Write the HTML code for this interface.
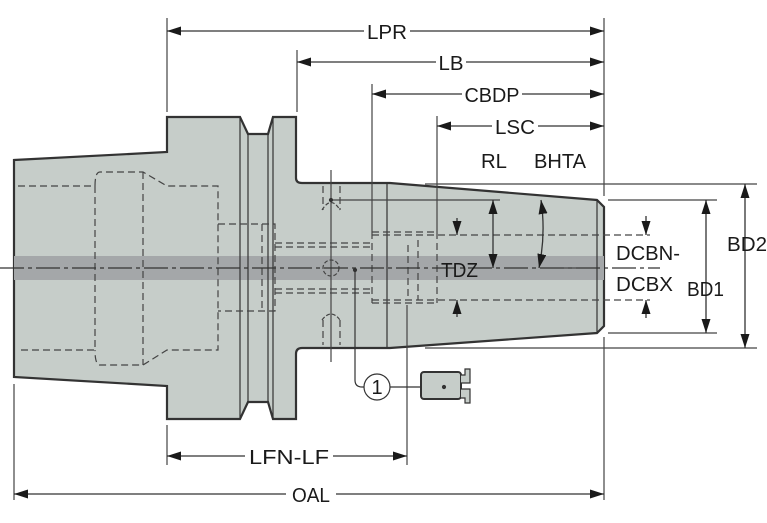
<!DOCTYPE html>
<html><head><meta charset="utf-8"><style>
html,body{margin:0;padding:0;background:#fff;}
svg{display:block;}
text{font-family:"Liberation Sans",sans-serif;font-size:20px;fill:#1a1a1a;}
</style></head><body>
<svg width="767" height="523" viewBox="0 0 767 523" xmlns="http://www.w3.org/2000/svg">
<defs>
<marker id="a" viewBox="0 0 14 9" refX="14" refY="4.5" markerWidth="14" markerHeight="9" orient="auto-start-reverse" markerUnits="userSpaceOnUse"><path d="M0,0 L14,4.5 L0,9 z" fill="#1a1a1a"/></marker>
</defs>
<g stroke="#333" stroke-width="1.2">
<path d="M14,160 L167,152 L167,117 L240,117 L248,134 L268,134 L273,117 L296,117 L296,178 Q296,183 302,183 L390,183 L597,200 L604,207 L604,326 L597,333 L390,348 L302,348 Q296,348 296,354 L296,419 L273,419 L268,402 L248,402 L240,419 L167,419 L167,386 L14,377 Z" fill="#c6cdc9" stroke-width="2.2"/>
<rect x="14" y="256" width="590" height="24" fill="#a4a7a9" stroke="none"/>
<line x1="240" y1="117" x2="240" y2="419"/>
<line x1="248" y1="134" x2="248" y2="402"/>
<line x1="268" y1="134" x2="268" y2="402"/>
<line x1="273" y1="117" x2="273" y2="419"/>
<line x1="387" y1="183" x2="387" y2="347"/>
<line x1="597" y1="200" x2="597" y2="333"/>
</g>
<g stroke="#444" stroke-width="1.2" fill="none" stroke-dasharray="7,4">
<path d="M18,186 L95,186 L95,350 L18,350"/>
<path d="M95,186 Q95,172 100,172 L143,172 L167,186 L218,186 L218,350 L167,350 L143,365 L100,365 Q95,365 95,350"/>
<path d="M143,172 L143,365"/>
<path d="M218,224 L275,224 L275,311 L218,311"/>
<path d="M262,224 L262,311"/>
<path d="M275,243 L372,243 M275,247 L372,247 M275,289 L372,289 M275,293 L372,293"/>
<path d="M372,232 L372,303"/>
<path d="M372,232 L437,232 M372,303 L437,303 M437,232 L437,303"/>
<path d="M372,235 L650,235 M372,300 L650,300"/>
<path d="M408,245 L408,300 M418,240 L418,300"/>
<path d="M323,186 L323,210 M340,186 L340,210 M323,320 L323,345 M340,320 L340,345"/>
</g>
<g stroke="#444" stroke-width="1.2" fill="none">
<path d="M322,210 Q331,195 340,210" stroke-dasharray="4,2"/>
<path d="M322,320 Q331,308 340,320" stroke-dasharray="4,2"/>
<circle cx="331" cy="268" r="8" stroke-dasharray="4,2"/>
<line x1="331" y1="170" x2="331" y2="362"/>
</g>
<line x1="0" y1="268" x2="660" y2="268" stroke="#333" stroke-width="1.2" stroke-dasharray="24,4,4,4"/>
<g stroke="#444" stroke-width="1.2">
<line x1="167" y1="18" x2="167" y2="112"/>
<line x1="297" y1="50" x2="297" y2="112"/>
<line x1="372" y1="84" x2="372" y2="232"/>
<line x1="437" y1="116" x2="437" y2="232"/>
<line x1="604" y1="18" x2="604" y2="196"/>
<line x1="604" y1="337" x2="604" y2="500"/>
<line x1="14" y1="384" x2="14" y2="500"/>
<line x1="167" y1="425" x2="167" y2="465"/>
<line x1="407" y1="305" x2="407" y2="465"/>
<line x1="425" y1="184" x2="757" y2="184"/>
<line x1="425" y1="348" x2="757" y2="348"/>
<line x1="608" y1="200" x2="717" y2="200"/>
<line x1="608" y1="333" x2="717" y2="333"/>
<line x1="331" y1="200" x2="500" y2="200"/>
<line x1="545" y1="268" x2="580" y2="268"/>
</g>
<g stroke="#333" stroke-width="1.3" marker-start="url(#a)" marker-end="url(#a)">
<line x1="167" y1="31" x2="604" y2="31"/>
<line x1="297" y1="62" x2="604" y2="62"/>
<line x1="372" y1="94" x2="604" y2="94"/>
<line x1="437" y1="126" x2="604" y2="126"/>
<line x1="167" y1="456" x2="407" y2="456"/>
<line x1="14" y1="494" x2="604" y2="494"/>
<line x1="745" y1="184" x2="745" y2="348"/>
<line x1="706" y1="200" x2="706" y2="333"/>
<line x1="493" y1="200" x2="493" y2="268"/>
<path d="M541,200 Q546,234 539,268" fill="none"/>
</g>
<g stroke="#333" stroke-width="1.3" marker-end="url(#a)">
<line x1="457" y1="218" x2="457" y2="235"/>
<line x1="457" y1="317" x2="457" y2="300"/>
<line x1="646" y1="216" x2="646" y2="235"/>
<line x1="646" y1="318" x2="646" y2="300"/>
</g>
<g fill="#fff">
<rect x="364" y="20" width="46" height="22"/>
<rect x="436" y="51" width="30" height="22"/>
<rect x="462" y="83" width="60" height="22"/>
<rect x="492" y="115" width="46" height="22"/>
<rect x="245" y="445" width="88" height="22"/>
<rect x="286" y="483" width="50" height="22"/>
</g>
<g>
<text x="387" y="39" text-anchor="middle" textLength="40" lengthAdjust="spacingAndGlyphs">LPR</text>
<text x="451" y="70" text-anchor="middle" textLength="25" lengthAdjust="spacingAndGlyphs">LB</text>
<text x="492" y="102" text-anchor="middle" textLength="55" lengthAdjust="spacingAndGlyphs">CBDP</text>
<text x="515" y="134" text-anchor="middle" textLength="40" lengthAdjust="spacingAndGlyphs">LSC</text>
<text x="289" y="464" text-anchor="middle" textLength="80" lengthAdjust="spacingAndGlyphs">LFN-LF</text>
<text x="311" y="502" text-anchor="middle" textLength="38" lengthAdjust="spacingAndGlyphs">OAL</text>
<text x="481" y="168" textLength="26" lengthAdjust="spacingAndGlyphs">RL</text>
<text x="534" y="168" textLength="52" lengthAdjust="spacingAndGlyphs">BHTA</text>
<text x="441" y="277" textLength="37" lengthAdjust="spacingAndGlyphs">TDZ</text>
<text x="616" y="260" textLength="64" lengthAdjust="spacingAndGlyphs">DCBN-</text>
<text x="616" y="291" textLength="57" lengthAdjust="spacingAndGlyphs">DCBX</text>
<text x="687" y="296" textLength="37" lengthAdjust="spacingAndGlyphs">BD1</text>
<text x="727" y="251" textLength="40" lengthAdjust="spacingAndGlyphs">BD2</text>
</g>
<g stroke="#333" stroke-width="1.2" fill="none">
<circle cx="355" cy="270" r="1.5" fill="#333"/>
<circle cx="331" cy="200" r="1.5" fill="#333"/>
<path d="M355,270 L355,380 Q355,387 362,387 L364,387"/>
<circle cx="377" cy="387" r="13" fill="#fff"/>
<line x1="390" y1="387" x2="444" y2="387"/>
<rect x="421" y="372" width="40" height="27" rx="3" fill="#c6cdc9" stroke-width="2"/>
<path d="M461,375 L465,375 L465,369 L470,369 L470,383 L461,383 M461,389 L470,389 L470,403 L465,403 L465,398 L461,398" fill="#c6cdc9"/>
<circle cx="444" cy="387" r="1.5" fill="#333"/>
</g>
<text x="377" y="394" text-anchor="middle" font-size="19">1</text>
</svg>
</body></html>
